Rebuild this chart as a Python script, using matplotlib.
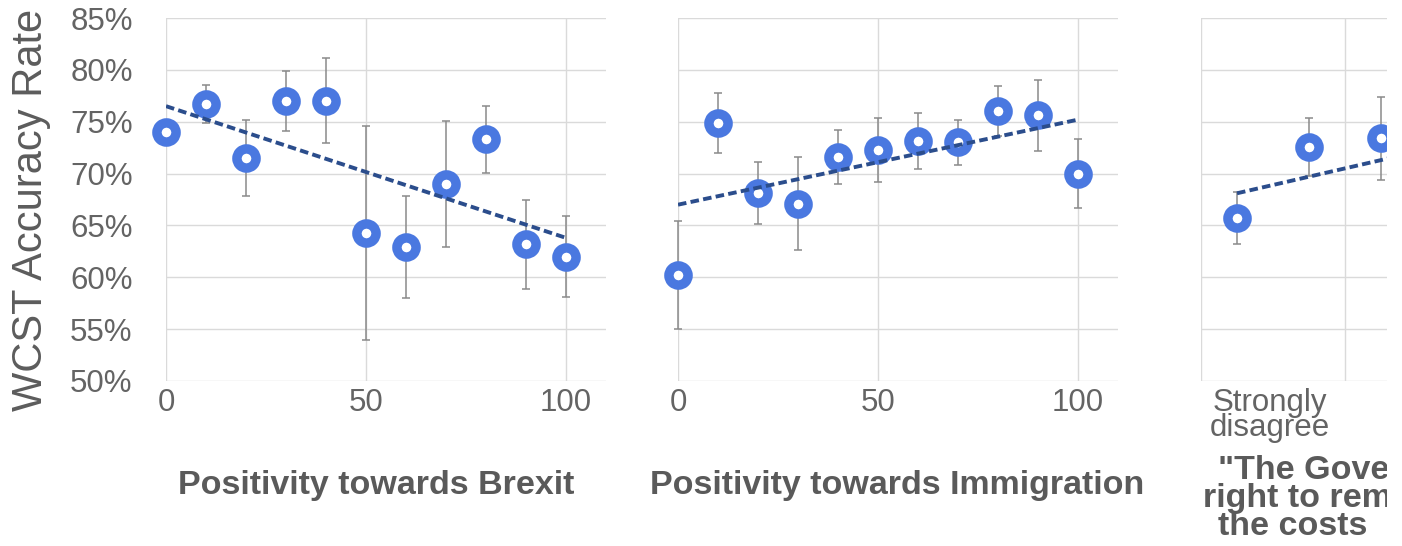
#!/usr/bin/python

import matplotlib
matplotlib.use('Agg')
import matplotlib.pyplot as plt
from matplotlib import rcParams
from matplotlib.patches import Rectangle

# WCST accuracy (%) by positivity towards Brexit (0-100 scale)
brexit_x = [0, 10, 20, 30, 40, 50, 60, 70, 80, 90, 100]
brexit_acc = [74.0, 76.7, 71.5, 77.0, 77.0, 64.3, 62.9, 69.0, 73.3, 63.2, 62.0]
brexit_err = [0.6, 1.8, 3.7, 2.9, 4.1, 10.3, 4.9, 6.1, 3.2, 4.3, 3.9]
brexit_trend_x = [0, 100]
brexit_trend = [76.5, 63.8]

# WCST accuracy (%) by positivity towards immigration
immig_x = [0, 10, 20, 30, 40, 50, 60, 70, 80, 90, 100]
immig_acc = [60.2, 74.9, 68.1, 67.1, 71.6, 72.3, 73.1, 73.0, 76.0, 75.6, 70.0]
immig_err = [5.2, 2.9, 3.0, 4.5, 2.6, 3.1, 2.7, 2.2, 2.4, 3.4, 3.3]
immig_trend_x = [0, 100]
immig_trend = [67.0, 75.2]

# Likert item, only the first three answers are visible (picture is cropped)
gov_x = [1, 2, 3]
gov_acc = [65.7, 72.6, 73.4]
gov_err = [2.5, 2.8, 4.0]
gov_trend_x = [1, 3.5]
gov_trend = [68.1, 72.1]

y_ticks = [50, 55, 60, 65, 70, 75, 80, 85]
num_ticks = [0, 50, 100]

ring = '#4a78e0'
dash = '#2b4d8c'
grey = '#646464'
grid = '#dadada'

W, H = 1402, 546

def box(left, width):
    # axes rectangle from pixel positions (top of grid at 18px, bottom at 381px)
    return [left / W, 1 - 381 / H, width / W, 363 / H]

def panel(ax, x, acc, err, tx, ty):
    ax.errorbar(x, acc, yerr=err, fmt='none', ecolor='#8a8a8a', elinewidth=1.1,
                capsize=3, capthick=1.1, zorder=2, clip_on=False)
    ax.plot(x, acc, 'o', ms=13.8, mfc='white', mec=ring, mew=6.8, zorder=3,
            clip_on=False)
    ax.plot(tx, ty, ls=(0, (2.2, 1.1)), color=dash, lw=2.8, zorder=4)
    ax.set_ylim(50, 85)
    ax.set_yticks(y_ticks)
    ax.grid(True, color=grid, lw=1)
    ax.set_axisbelow(True)
    for s in ax.spines.values():
        s.set_visible(False)
    ax.tick_params(axis='both', length=0, labelsize=22.5, labelcolor=grey)
    ax.tick_params(axis='x', pad=5)

rcParams['font.family'] = ['Liberation Sans', 'DejaVu Sans']
fig = plt.figure(figsize=(W / 100, H / 100), dpi=100)

ax1 = fig.add_axes(box(166, 440))
panel(ax1, brexit_x, brexit_acc, brexit_err, brexit_trend_x, brexit_trend)
ax1.set_xlim(0, 110)
ax1.set_xticks(num_ticks)
ax1.set_yticklabels([f'{v}%' for v in y_ticks])
ax1.tick_params(axis='y', pad=24)

ax2 = fig.add_axes(box(678, 440))
panel(ax2, immig_x, immig_acc, immig_err, immig_trend_x, immig_trend)
ax2.set_xlim(0, 110)
ax2.set_xticks(num_ticks)
ax2.set_yticklabels([])

ax3 = fig.add_axes(box(1201, 360))
panel(ax3, gov_x, gov_acc, gov_err, gov_trend_x, gov_trend)
ax3.set_xlim(0.5, 5.5)
ax3.set_xticks([0.5, 2.5, 4.5])
ax3.set_xticklabels([])
ax3.set_xticks([1.45], labels=['Strongly\ndisagree'], minor=True)
ax3.tick_params(axis='x', which='minor', length=0, pad=5, labelsize=22.5,
                labelcolor=grey)
for t in ax3.get_xticklabels(minor=True):
    t.set_linespacing(0.8)
ax3.set_yticklabels([])

fig.text(31 / W, 1 - 210 / H, 'WCST Accuracy Rate', rotation=90, fontsize=30,
         color='#5c5c5c', ha='center', va='center')

lab = dict(fontsize=24.5, fontweight='bold', color='#5a5a5a', va='baseline')
fig.text(376 / W, 1 - 494 / H, 'Positivity towards Brexit', ha='center', **lab)
fig.text(897 / W, 1 - 494 / H, 'Positivity towards Immigration', ha='center',
         **lab)
# third label is cut off by the right edge of the original picture
fig.text(1218 / W, 1 - 479 / H, '"The Government has the', ha='left', **lab)
fig.text(1203 / W, 1 - 507 / H, 'right to remove benefits', ha='left', **lab)
fig.text(1218 / W, 1 - 535 / H, 'the costs', ha='left', **lab)

# white strip where the source image was cropped
fig.add_artist(Rectangle((1387 / W, 0), 1, 1, transform=fig.transFigure,
                         facecolor='white', edgecolor='none', zorder=10))

fig.savefig('out.png', dpi=100)
